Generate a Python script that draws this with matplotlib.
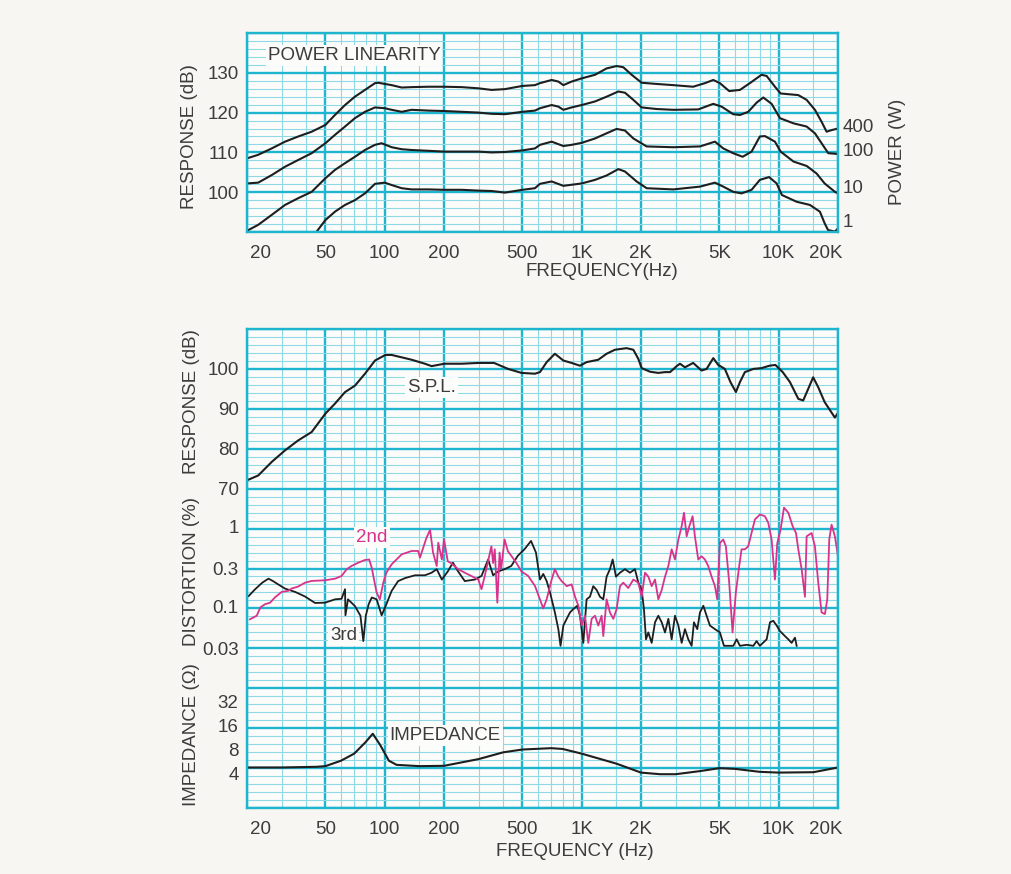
import numpy as np
import matplotlib
matplotlib.use("Agg")
import matplotlib.pyplot as plt
from matplotlib.ticker import FixedLocator, NullFormatter
from matplotlib.transforms import ScaledTranslation, blended_transform_factory

plt.rcParams['font.family'] = ['Liberation Sans', 'DejaVu Sans']

# ---------------- data ----------------
X_TICKS = [20, 50, 100, 200, 500, 1000, 2000, 5000, 10000, 20000]
X_LABELS = ['20', '50', '100', '200', '500', '1K', '2K', '5K', '10K', '20K']

# Power linearity (dB SPL) at 400 W, 100 W, 10 W, 1 W
P400_F = [20, 22.8, 26.7, 31.2, 36.4, 42.6, 50, 55.9, 62.9, 70.6, 79.4, 89.3, 92.9, 100, 108.5, 122,
          137, 167, 200, 246, 299, 349, 408, 500, 579, 614, 704, 761, 807, 889, 1000, 1168, 1338,
          1504, 1626, 1793, 2016, 2400, 2917, 3680, 4222, 4655, 5030, 5608, 6357, 7140, 8180, 8687,
          9571, 10229, 12575, 13861, 15271, 16510, 17500, 18551, 20000]
P400_DB = [108.5, 109.4, 111.0, 112.7, 114.0, 115.2, 116.9, 119.4, 121.9, 124.0, 125.7, 127.4, 127.5,
           127.2, 126.9, 126.3, 126.4, 126.5, 126.5, 126.4, 126.1, 125.7, 125.9, 126.7, 126.9, 127.4,
           128.2, 127.8, 126.9, 127.8, 128.6, 129.5, 131.1, 131.7, 131.4, 129.5, 127.5, 127.2, 126.9,
           126.5, 127.4, 128.2, 127.4, 125.4, 125.7, 127.4, 129.5, 129.2, 126.5, 124.8, 124.4, 123.2,
           120.7, 117.7, 115.2, 115.6, 116.0]
P100_F = [20, 22.8, 26.7, 31.2, 36.4, 42.6, 50, 55.9, 62.9, 70.6, 79.4, 89.3, 100, 108.5, 122, 137,
          167, 200, 246, 299, 349, 408, 500, 579, 614, 704, 761, 807, 889, 1000, 1168, 1338, 1534,
          1658, 1829, 2016, 2400, 2917, 3905, 4655, 5130, 5875, 6357, 7005, 7724, 8350, 9205, 10150,
          11890, 13861, 15271, 16510, 17850, 20000]
P100_DB = [102.2, 102.4, 104.3, 106.4, 108.1, 109.8, 112.3, 114.4, 116.5, 118.6, 120.2, 121.3, 121.1,
           120.7, 120.2, 120.7, 120.5, 120.4, 120.2, 120.0, 119.7, 119.6, 120.2, 120.5, 121.1, 121.9,
           121.5, 120.7, 121.3, 121.9, 122.8, 124.0, 125.3, 125.0, 123.2, 121.3, 120.9, 120.7, 120.8,
           122.2, 121.5, 119.6, 119.4, 120.2, 122.5, 123.8, 122.2, 118.6, 117.3, 116.5, 114.8, 112.3,
           109.8, 109.6]
P10_F = [20, 22.8, 26.7, 31.2, 36.4, 42.6, 50, 55.9, 62.9, 70.6, 79.4, 89.3, 96.5, 108.5, 122, 137,
         167, 200, 246, 299, 349, 408, 500, 579, 614, 704, 807, 889, 1000, 1168, 1338, 1504, 1658,
         1829, 2137, 2917, 3985, 4746, 5231, 5876, 6560, 7283, 8027, 8514, 9571, 10229, 11890, 13861,
         15570, 17106, 19289, 20000]
P10_DB = [90.3, 91.8, 94.3, 96.8, 98.5, 100.1, 103.5, 105.6, 107.3, 108.9, 110.6, 111.9, 112.3, 111.3,
          110.8, 110.6, 110.4, 110.2, 110.2, 110.2, 110.0, 110.1, 110.5, 111.0, 111.9, 112.7, 111.6,
          111.9, 112.4, 113.5, 114.8, 115.9, 115.5, 113.5, 111.5, 111.3, 111.5, 112.7, 111.0, 109.8,
          108.9, 110.2, 114.0, 114.1, 112.7, 110.2, 107.7, 106.6, 104.7, 102.2, 100.1, 99.7]
P1_F = [45, 50, 55.9, 62.9, 70.6, 79.4, 89.3, 100, 108.5, 122, 137, 167, 200, 246, 299, 349, 408,
        500, 579, 614, 704, 807, 1000, 1168, 1338, 1534, 1658, 1900, 2137, 2917, 3985, 4746, 5231,
        5876, 6480, 7283, 8027, 8940, 9763, 10380, 12335, 14400, 16190, 17106, 17800, 19289, 20000]
P1_DB = [90.0, 93.0, 95.1, 96.8, 98.0, 99.7, 102.1, 102.4, 101.8, 101.0, 100.7, 100.7, 100.6, 100.6,
         100.4, 100.3, 99.9, 100.6, 101.0, 102.1, 102.7, 101.6, 102.2, 103.1, 104.2, 105.8, 105.2,
         102.7, 101.0, 100.7, 101.4, 102.4, 101.4, 100.1, 99.7, 100.6, 103.1, 103.8, 102.2, 99.3,
         97.6, 96.8, 95.1, 92.2, 90.5, 90.1, 90.9]
POWER_LABELS = ['400', '100', '10', '1']

# S.P.L. response (dB)
SPL_F = [20, 22.8, 26.7, 31.2, 36.4, 42.6, 50, 55.9, 62.9, 70.6, 79.4, 89.3, 100.8, 108.5, 122, 137,
         160, 173, 201, 246, 299, 359, 423, 495, 579, 614, 664, 731, 807, 889, 980, 1059, 1214, 1338,
         1474, 1689, 1829, 1939, 2016, 2222, 2449, 2648, 2810, 3035, 3154, 3343, 3680, 4060, 4306,
         4655, 4933, 5330, 5690, 6063, 6357, 6736, 7436, 8180, 8975, 9620, 10480, 11404, 12575,
         13320, 14120, 14960, 15878, 17106, 19289, 20000]
SPL_DB = [72.1, 73.3, 76.7, 79.6, 82.1, 84.2, 88.8, 91.3, 94.2, 95.8, 98.8, 102.1, 103.5, 103.5,
          102.9, 102.3, 101.3, 100.7, 101.3, 101.3, 101.5, 101.5, 100.0, 99.0, 98.8, 99.2, 101.7,
          103.8, 102.1, 101.5, 100.8, 101.7, 102.3, 103.8, 104.8, 105.2, 104.8, 102.5, 100.2, 99.3,
          99.0, 99.2, 99.2, 100.7, 101.3, 100.4, 101.5, 99.6, 100.0, 102.7, 101.0, 100.0, 96.7,
          94.2, 96.7, 99.2, 100.0, 100.2, 100.8, 101.0, 99.2, 96.7, 92.5, 92.1, 95.0, 97.9, 95.4,
          91.7, 87.8, 89.0]

# 2nd harmonic distortion (%)
H2_F = [20.7, 22.4, 23.4, 24.7, 26.2, 27.7, 30, 32.4, 33.6, 36.4, 39.4, 42.6, 49.8, 56, 60.4, 64.1,
        67.9, 73.4, 79.4, 83.4, 85.9, 91, 94.5, 98.4, 102, 108.5, 122, 137, 148, 151, 157, 163, 170,
        176, 183.7, 187, 195, 200, 209, 217, 236, 255, 275, 298.6, 310, 322, 348, 355, 362, 373, 383,
        390, 406, 422, 439, 465, 495, 535, 580,
        614, 638, 664, 704, 731, 761, 791, 839, 889, 925, 962, 1000, 1039, 1080, 1123, 1168, 1214,
        1262, 1287, 1338, 1391, 1447, 1504, 1564, 1626, 1724, 1829, 1939, 2016, 2096, 2179, 2266,
        2356, 2449, 2547, 2648, 2753, 2862, 2976, 3095, 3217, 3306, 3410, 3518, 3656, 3756, 3905,
        4060, 4222, 4390, 4564, 4746, 4875, 5030, 5231, 5393, 5608, 5831, 6063, 6304, 6478, 6736,
        7004, 7283, 7572, 8027, 8514, 8853, 9205, 9571, 9838, 10229, 10637, 11191, 11773, 12241,
        12575, 13074, 13594, 13861, 14687, 15271, 15878, 16510, 17166, 17641, 18057, 18551, 19289,
        20000]
H2_PCT = [0.073, 0.081, 0.103, 0.113, 0.118, 0.137, 0.161, 0.166, 0.177, 0.188, 0.21, 0.221, 0.225,
          0.236, 0.255, 0.309, 0.34, 0.374, 0.404, 0.41, 0.324, 0.158, 0.13, 0.21, 0.281, 0.357,
          0.476, 0.524, 0.524, 0.432, 0.577, 0.769, 0.96, 0.5, 0.34, 0.665, 0.41, 0.73, 0.39, 0.37,
          0.31, 0.28, 0.255, 0.23, 0.174, 0.255, 0.6, 0.37, 0.55, 0.118, 0.5, 0.31, 0.73, 0.52,
          0.457, 0.374, 0.29, 0.255, 0.19,
          0.13, 0.1, 0.13, 0.23, 0.31, 0.25, 0.22, 0.19, 0.2, 0.14, 0.108, 0.061, 0.081, 0.037,
          0.074, 0.081, 0.061, 0.081, 0.045, 0.13, 0.089, 0.074, 0.098, 0.19, 0.21, 0.18, 0.23, 0.21,
          0.14, 0.28, 0.25, 0.19, 0.23, 0.13, 0.17, 0.25, 0.34, 0.55, 0.41, 0.73, 1.07, 1.58, 0.8,
          1.07, 1.43, 0.8, 0.41, 0.45, 0.41, 0.34, 0.25, 0.19, 0.13, 0.66, 0.73, 0.6, 0.21, 0.05,
          0.16, 0.34, 0.55, 0.55, 0.6, 0.88, 1.3, 1.5, 1.43, 1.18, 0.73, 0.23, 0.66, 0.98, 1.83,
          1.58, 1.07, 0.88, 0.55, 0.31, 0.14, 0.8, 0.88, 0.6, 0.21, 0.089, 0.085, 0.13, 0.73, 1.12,
          0.8, 0.45]

# 3rd harmonic distortion (%)
H3_F = [20.4, 22, 23.9, 25.7, 27.1, 28.8, 31.2, 35.1, 39.4, 44.3, 49.8, 56, 60.4, 62.9, 63.2, 65.1,
        70.6, 75.3, 77.9, 80.2, 82.9, 86, 91, 96.5, 102, 108.5, 117, 127, 142.5, 160, 173, 183.7,
        195, 209, 222, 236, 255, 287, 310, 335, 355, 376, 406, 439, 474, 512, 553, 586,
        614, 638, 664, 690, 731, 761, 781, 807, 839, 872, 906, 950, 980, 1019, 1059, 1101, 1145,
        1191, 1238, 1287, 1338, 1391, 1436, 1493, 1564, 1658, 1758, 1863, 1939, 2016, 2070, 2120,
        2179, 2266, 2356, 2449, 2547, 2648, 2753, 2862, 2976, 3095, 3217, 3343, 3476, 3614, 3714,
        3862, 3984, 4143, 4306, 4476, 4746, 5030, 5274, 5545, 5883, 6116, 6357, 6877, 7436, 7724,
        8027, 8687, 9032, 9385, 9763, 10150, 10760, 11191, 11630, 12093, 12335]
H3_PCT = [0.143, 0.174, 0.21, 0.236, 0.22, 0.2, 0.177, 0.161, 0.141, 0.117, 0.118, 0.13, 0.132,
          0.174, 0.082, 0.13, 0.107, 0.081, 0.039, 0.081, 0.113, 0.137, 0.13, 0.082, 0.113, 0.166,
          0.22, 0.24, 0.26, 0.26, 0.28, 0.31, 0.23, 0.29, 0.374, 0.29, 0.22, 0.23, 0.255, 0.41,
          0.26, 0.29, 0.31, 0.34, 0.457, 0.55, 0.7, 0.5,
          0.23, 0.27, 0.22, 0.16, 0.089, 0.055, 0.034, 0.061, 0.074, 0.089, 0.098, 0.108, 0.081,
          0.037, 0.13, 0.14, 0.19, 0.17, 0.14, 0.13, 0.25, 0.31, 0.41, 0.25, 0.28, 0.31, 0.28,
          0.31, 0.21, 0.17, 0.098, 0.041, 0.05, 0.037, 0.067, 0.081, 0.067, 0.05, 0.074, 0.041,
          0.081, 0.061, 0.037, 0.055, 0.041, 0.034, 0.067, 0.055, 0.089, 0.108, 0.081, 0.061,
          0.055, 0.05, 0.034, 0.034, 0.034, 0.041, 0.034, 0.035, 0.034, 0.039, 0.034, 0.041, 0.067,
          0.07, 0.061, 0.052, 0.045, 0.041, 0.037, 0.043, 0.034]

# Impedance (ohm)
IMP_F = [20, 30, 45, 50, 60, 70, 80, 87, 95, 105, 115, 150, 200, 300, 400, 500, 700, 800, 1000, 1500,
         2000, 2500, 3000, 4000, 5000, 6000, 8000, 10000, 15000, 20000]
IMP_OHM = [5.1, 5.1, 5.2, 5.3, 6.2, 7.6, 10.6, 13.5, 9.7, 6.2, 5.5, 5.3, 5.35, 6.5, 7.9, 8.56, 8.9,
           8.7, 7.6, 5.7, 4.4, 4.2, 4.2, 4.6, 5.0, 4.9, 4.5, 4.4, 4.45, 5.1]

RESP_TICKS = [70, 80, 90, 100]
DIST_TICKS = [1, 0.3, 0.1, 0.03]
DIST_LABELS = ['1', '0.3', '0.1', '0.03']
IMP_TICKS = [32, 16, 8, 4]

# ---------------- style ----------------
TXT = '#3c3c3c'
MAJ = '#1fb5cf'
MIN = '#8fd8e6'
PINK = '#d8338c'
LINE = '#1e1e1e'
FS = 13.5


def dist_to_units(p):
    # 1 % -> 60 (i.e. -40 dB re 100 dB), 20 dB per decade
    return 20 * np.log10(np.asarray(p, float)) + 60


def imp_to_units(z):
    return 20 * np.log10(np.asarray(z, float)) - 14


fig = plt.figure(figsize=(10.11, 8.74), dpi=100, facecolor='#f7f6f3')
W, H = 1011, 874


def make_axes(top, bottom):
    ax = fig.add_axes([247 / W, 1 - bottom / H, (838 - 247) / W, (bottom - top) / H])
    ax.set_facecolor('#fcfcfb')
    ax.set_xscale('log')
    ax.set_xlim(20, 20000)
    ax.xaxis.set_major_locator(FixedLocator(X_TICKS))
    minors = [m * d for d in (10, 100, 1000, 10000) for m in (1, 1.5, 2, 3, 4, 5, 6, 7, 8, 9)
              if 20 <= m * d <= 20000 and m * d not in X_TICKS]
    ax.xaxis.set_minor_locator(FixedLocator(minors))
    ax.xaxis.set_minor_formatter(NullFormatter())
    ax.set_xticklabels(X_LABELS)
    ax.tick_params(which='both', length=0, colors=TXT, labelsize=FS)
    ax.tick_params(axis='x', pad=9)
    ax.tick_params(axis='y', pad=6)
    ax.grid(which='major', color=MAJ, lw=1.7)
    ax.grid(which='minor', color=MIN, lw=0.8)
    ax.set_axisbelow(True)
    for s in ax.spines.values():
        s.set_color(MAJ)
        s.set_linewidth(1.7)
    labs = ax.get_xticklabels()
    labs[0].set_transform(labs[0].get_transform() + ScaledTranslation(10 / 72, 0, fig.dpi_scale_trans))
    labs[-1].set_transform(labs[-1].get_transform() + ScaledTranslation(-9 / 72, 0, fig.dpi_scale_trans))
    return ax


# ---------------- top panel ----------------
ax1 = make_axes(33, 232)
ax1.set_ylim(90, 140)
ax1.yaxis.set_major_locator(FixedLocator([90, 100, 110, 120, 130, 140]))
ax1.yaxis.set_minor_locator(FixedLocator([v for v in range(90, 141, 2) if v % 10]))
ax1.set_yticklabels(['', '100', '110', '120', '130', ''])
for f, d in ((P400_F, P400_DB), (P100_F, P100_DB), (P10_F, P10_DB), (P1_F, P1_DB)):
    ax1.plot(f, d, color=LINE, lw=1.5, solid_joinstyle='round', solid_capstyle='round')
ax1.text(0.035, 0.885, 'POWER LINEARITY', transform=ax1.transAxes, fontsize=FS, color=TXT,
         ha='left', va='center', bbox=dict(facecolor='#fcfcfb', edgecolor='none', pad=1.5))
tr = blended_transform_factory(ax1.transAxes, ax1.transData)
for lab, yv in zip(POWER_LABELS, [116.3, 110.3, 101.0, 92.5]):
    ax1.text(1.008, yv, lab, transform=tr, fontsize=FS, color=TXT, ha='left', va='center', clip_on=False)
fig.text(190 / W, 1 - 137 / H, 'RESPONSE (dB)', rotation=90, ha='center', va='center', fontsize=FS, color=TXT)
fig.text(897 / W, 1 - 152 / H, 'POWER (W)', rotation=90, ha='center', va='center', fontsize=FS, color=TXT)
fig.text(602 / W, 1 - 271 / H, 'FREQUENCY(Hz)', ha='center', va='center', fontsize=FS, color=TXT)

# ---------------- bottom panel ----------------
ax2 = make_axes(329, 808)
ax2.set_ylim(-10, 110)
ax2.yaxis.set_major_locator(FixedLocator(list(range(-10, 111, 10))))
ax2.yaxis.set_minor_locator(FixedLocator([v for v in range(-10, 111, 2) if v % 10]))
ax2.set_yticklabels([str(v) if v in RESP_TICKS else '' for v in range(-10, 111, 10)])
tr2 = blended_transform_factory(ax2.transAxes, ax2.transData)
off = ScaledTranslation(-6 / 72, 0, fig.dpi_scale_trans)
for lab, v in zip(DIST_LABELS, dist_to_units(DIST_TICKS)):
    ax2.text(0, v, lab, transform=tr2 + off, fontsize=FS, color=TXT, ha='right', va='center')
for z, v in zip(IMP_TICKS, imp_to_units(IMP_TICKS)):
    ax2.text(0, v, str(z), transform=tr2 + off, fontsize=FS, color=TXT, ha='right', va='center')

ax2.plot(SPL_F, SPL_DB, color=LINE, lw=1.5, solid_joinstyle='round')
ax2.plot(H3_F, dist_to_units(H3_PCT), color=LINE, lw=1.3, solid_joinstyle='round')
ax2.plot(H2_F, dist_to_units(H2_PCT), color=PINK, lw=1.3, solid_joinstyle='round')
ax2.plot(IMP_F, imp_to_units(IMP_OHM), color=LINE, lw=1.5, solid_joinstyle='round')

box = dict(facecolor='#fcfcfb', edgecolor='none', pad=1.5)
ax2.text(172, 95.3, 'S.P.L.', fontsize=FS, color=TXT, ha='center', va='center', bbox=box)
ax2.text(86, 57.8, '2nd', fontsize=FS, color=PINK, ha='center', va='center', bbox=box)
ax2.text(62, 33.2, '3rd', fontsize=FS, color=TXT, ha='center', va='center', bbox=box)
ax2.text(106, 8.2, 'IMPEDANCE', fontsize=FS, color=TXT, ha='left', va='center', bbox=box)

fig.text(191 / W, 1 - 402 / H, 'RESPONSE (dB)', rotation=90, ha='center', va='center', fontsize=FS, color=TXT)
fig.text(191 / W, 1 - 572 / H, 'DISTORTION (%)', rotation=90, ha='center', va='center', fontsize=FS, color=TXT)
fig.text(191 / W, 1 - 735 / H, 'IMPEDANCE (Ω)', rotation=90, ha='center', va='center', fontsize=FS, color=TXT)
fig.text(575 / W, 1 - 852 / H, 'FREQUENCY (Hz)', ha='center', va='center', fontsize=FS, color=TXT)

fig.savefig('out.png', dpi=100, facecolor=fig.get_facecolor())
